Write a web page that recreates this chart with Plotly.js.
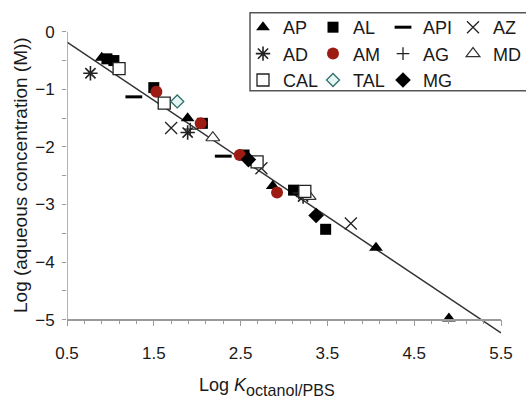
<!DOCTYPE html>
<html>
<head>
<meta charset="utf-8">
<script src="https://cdn.plot.ly/plotly-3.0.1.min.js"></script>
<style>html,body{margin:0;padding:0;background:#fff;}#chart{width:526px;height:398px;}</style>
</head>
<body>
<div id="chart"></div>
<script>
// ---- data ----
const seriesNames = ["AP","AL","API","AZ","AD","AM","AG","MD","CAL","TAL","MG"];
const AP_x  = [0.90, 1.89, 2.87, 4.06, 4.90];
const AP_y  = [-0.45, -1.50, -2.68, -3.75, -4.98];
const AL_x  = [0.96, 1.04, 1.50, 2.06, 2.54, 3.11, 3.48];
const AL_y  = [-0.47, -0.50, -0.97, -1.59, -2.14, -2.75, -3.43];
const API_x = [1.27, 2.30];
const API_y = [-1.13, -2.16];
const AZ_x  = [1.70, 2.74, 3.77];
const AZ_y  = [-1.67, -2.37, -3.33];
const AD_x  = [0.77, 1.89, 3.22];
const AD_y  = [-0.72, -1.75, -2.86];
const AM_x  = [1.53, 2.04, 2.49, 2.92];
const AM_y  = [-1.04, -1.59, -2.14, -2.79];
const AG_x  = [1.92, 3.17];
const AG_y  = [-1.69, -2.80];
const MD_x  = [2.18, 3.29];
const MD_y  = [-1.84, -2.86];
const CAL_x = [1.10, 1.62, 2.69, 3.24];
const CAL_y = [-0.64, -1.24, -2.26, -2.77];
const TAL_x = [1.77];
const TAL_y = [-1.21];
const MG_x  = [2.59, 3.37];
const MG_y  = [-2.22, -3.19];
const fitX  = [0.5, 5.5];
const fitY  = [-0.18, -5.23];
const xTickVals = [0.5, 1.5, 2.5, 3.5, 4.5, 5.5];
const yTickVals = [0, -1, -2, -3, -4, -5];

// ---- styling ----
const FONT = "Liberation Sans, Arial, sans-serif";
const TXT = "#1a1a1a";
const AX = "#9a9a9a";

function pts(name, xs, ys, marker, legend) {
  return {type:"scatter", mode:"markers", name:name, x:xs, y:ys, marker:marker,
          legend:legend, hoverinfo:"x+y+name"};
}
const traces = [
  {type:"scatter", mode:"lines", x:fitX, y:fitY, showlegend:false,
   line:{color:"#333", width:1.5}, hoverinfo:"skip"},
  pts(seriesNames[0], AP_x, AP_y, {symbol:"triangle-up", size:12, color:"#000"}, "legend"),
  pts(seriesNames[1], AL_x, AL_y, {symbol:"square", size:11, color:"#000"}, "legend2"),
  pts(seriesNames[2], API_x, API_y, {symbol:"line-ew-open", size:12, color:"#000", line:{width:3, color:"#000"}}, "legend3"),
  pts(seriesNames[3], AZ_x, AZ_y, {symbol:"x-thin-open", size:12, color:"#222", line:{width:1.3, color:"#222"}}, "legend4"),
  pts(seriesNames[4], AD_x, AD_y, {symbol:"asterisk-open", size:12, color:"#222", line:{width:1.6, color:"#222"}}, "legend"),
  pts(seriesNames[5], AM_x, AM_y, {symbol:"circle", size:12, color:"#9c1c14"}, "legend2"),
  pts(seriesNames[6], AG_x, AG_y, {symbol:"cross-thin-open", size:9, color:"#222", line:{width:1.3, color:"#222"}}, "legend3"),
  pts(seriesNames[7], MD_x, MD_y, {symbol:"triangle-up", size:12, color:"#fff", line:{width:1.2, color:"#333"}}, "legend4"),
  pts(seriesNames[8], CAL_x, CAL_y, {symbol:"square", size:12, color:"#fff", line:{width:1.3, color:"#222"}}, "legend"),
  pts(seriesNames[9], TAL_x, TAL_y, {symbol:"diamond", size:10, color:"#e6f6f5", line:{width:1.3, color:"#2e6f6c"}}, "legend2"),
  pts(seriesNames[10], MG_x, MG_y, {symbol:"diamond", size:12, color:"#000"}, "legend3")
];

// legend columns: left edges in px of the 526-wide figure, converted to paper fractions
const PL = 67, PW = 434, PT = 26, PH = 311;
const colLeft = [243, 313, 383, 453];
const legTop = 9;
const legendCommon = {orientation:"v", bgcolor:"rgba(0,0,0,0)", borderwidth:0,
  font:{family:FONT, size:18, color:TXT}, xanchor:"left", yanchor:"top",
  y:(PT + PH - legTop) / PH, tracegroupgap:0};
const layout = {
  width:526, height:398,
  margin:{l:PL, r:526 - PL - PW, t:PT, b:398 - PT - PH, autoexpand:false},
  paper_bgcolor:"#fff", plot_bgcolor:"#fff",
  font:{family:FONT, size:17, color:TXT},
  showlegend:true,
  legend:  Object.assign({}, legendCommon, {x:(colLeft[0] - PL) / PW}),
  legend2: Object.assign({}, legendCommon, {x:(colLeft[1] - PL) / PW}),
  legend3: Object.assign({}, legendCommon, {x:(colLeft[2] - PL) / PW}),
  legend4: Object.assign({}, legendCommon, {x:(colLeft[3] - PL) / PW}),
  xaxis:{
    range:[0.5, 5.5], anchor:"free", position:0.0556,
    showline:true, linecolor:AX, linewidth:1.5,
    showgrid:false, zeroline:false,
    tickmode:"array", tickvals:xTickVals, ticktext:xTickVals.map(v => v.toFixed(1)),
    ticks:"outside", ticklen:6, tickwidth:1.3, tickcolor:AX,
    minor:{dtick:0.2, tick0:0.5, ticks:"outside", ticklen:4, tickwidth:1.3, tickcolor:AX, showgrid:false},
    ticklabelstandoff:12,
    tickfont:{family:FONT, size:17, color:TXT}
  },
  yaxis:{
    range:[-5.3, 0.1],
    showline:false, showgrid:false, zeroline:false,
    tickmode:"array", tickvals:yTickVals,
    ticks:"outside", ticklen:4, tickwidth:1.3, tickcolor:AX,
    minor:{tickvals:[-0.5,-1.5,-2.5,-3.5,-4.5], ticks:"outside", ticklen:4, tickwidth:1.3, tickcolor:AX, showgrid:false},
    ticklabelstandoff:4,
    tickfont:{family:FONT, size:17, color:TXT}
  },
  shapes:[
    {type:"line", xref:"x", yref:"y", x0:0.5, x1:0.5, y0:-5, y1:0,
     line:{color:AX, width:1.5}},
    {type:"rect", xref:"paper", yref:"paper", x0:(250 - PL) / PW, x1:1.2,
     y0:(PT + PH - 90.7) / PH, y1:(PT + PH - 12.7) / PH,
     line:{color:"#555", width:1.5}, fillcolor:"#fff", layer:"below"}
  ],
  annotations:[
    {text:'<span style="font-size:18px">Log <i>K</i></span><sub>octanol/PBS</sub>', xref:"paper", yref:"paper",
     x:(267 - PL) / PW, y:-(387 - PT - PH) / PH, xanchor:"center", yanchor:"middle", showarrow:false,
     font:{family:FONT, size:23, color:TXT}},
    {text:"Log (aqueous concentration (M))", xref:"paper", yref:"paper",
     x:(20 - PL) / PW, y:(PT + PH - 175) / PH, xanchor:"center", yanchor:"middle", textangle:-90, showarrow:false,
     font:{family:FONT, size:19, color:TXT}}
  ]
};
Plotly.newPlot("chart", traces, layout, {displayModeBar:false, responsive:false});
</script>
</body>
</html>
